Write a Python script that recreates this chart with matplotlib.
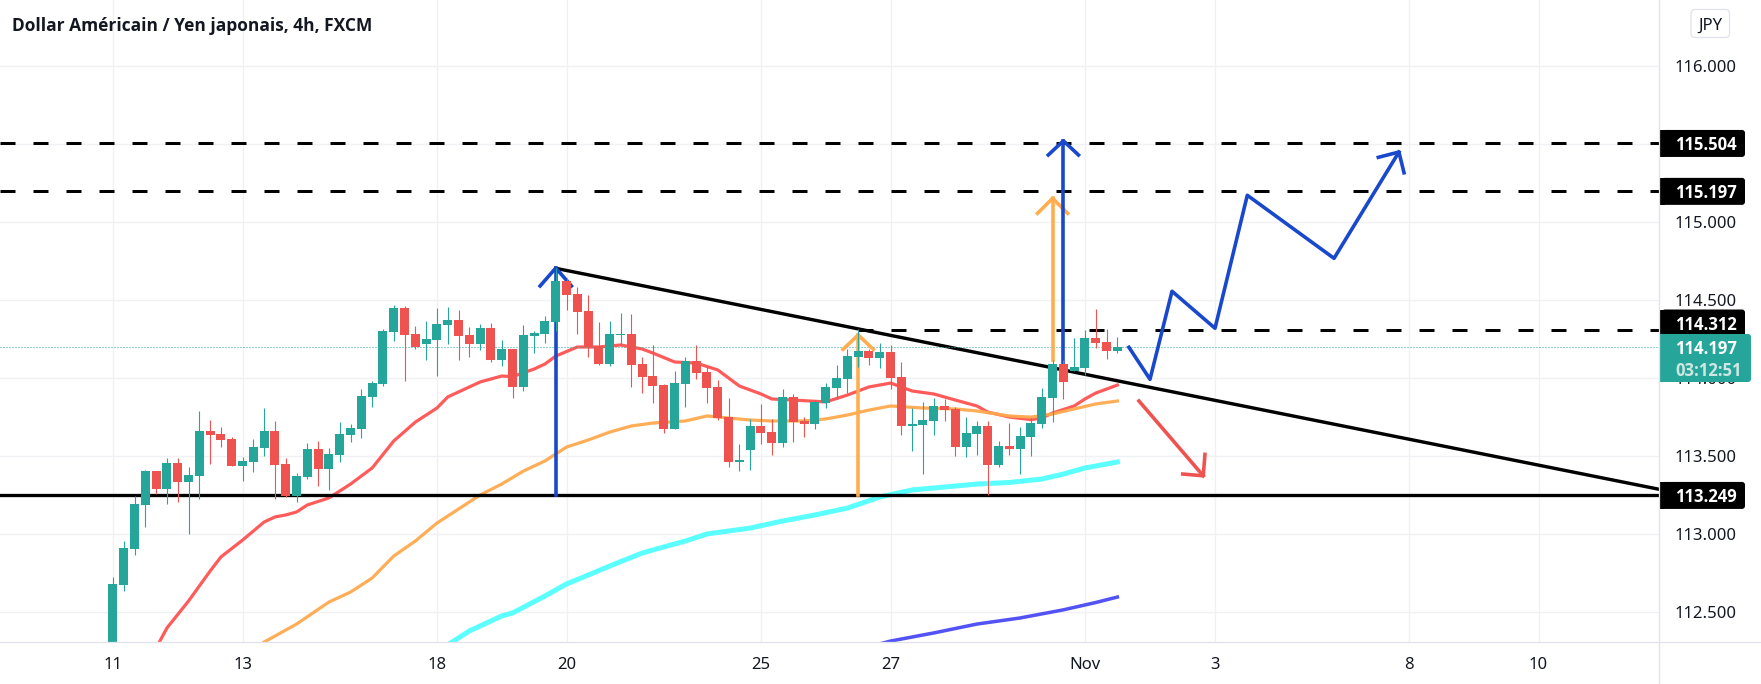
import matplotlib
matplotlib.use("Agg")
import matplotlib.pyplot as plt
from matplotlib.patches import FancyBboxPatch, Rectangle

plt.rcParams["font.family"] = ["Noto Sans", "DejaVu Sans"]
plt.rcParams["lines.scale_dashes"] = False

# 4h bars, x is the bar index
opens = [112.05, 112.675, 112.905, 113.187, 113.405, 113.290, 113.456, 113.335, 113.373, 113.661,
         113.642, 113.610, 113.437, 113.463, 113.552, 113.661, 113.450, 113.245, 113.367, 113.546,
         113.418, 113.508, 113.636, 113.674, 113.879, 113.962, 114.296, 114.449, 114.283, 114.219,
         114.244, 114.340, 114.372, 114.276, 114.219, 114.321, 114.116, 114.187, 113.943, 114.270,
         114.283, 114.360, 114.622, 114.539, 114.430, 114.206, 114.091, 114.276, 114.283, 114.091,
         114.014, 113.956, 113.674, 113.962, 114.110, 114.039, 113.943, 113.752, 113.463, 113.540,
         113.694, 113.656, 113.585, 113.880, 113.726, 113.707, 113.841, 113.938, 113.995, 114.136,
         114.175, 114.130, 114.168, 114.008, 113.694, 113.700, 113.726, 113.822, 113.803, 113.560,
         113.643, 113.694, 113.444, 113.566, 113.546, 113.623, 113.707, 113.873, 114.091, 114.046,
         114.065, 114.257, 114.232, 114.174]
highs = [112.726, 112.957, 113.245, 113.412, 113.405, 113.488, 113.488, 113.431, 113.789, 113.732,
         113.687, 113.623, 113.495, 113.610, 113.809, 113.725, 113.488, 113.392, 113.585, 113.597,
         113.552, 113.719, 113.706, 113.930, 113.982, 114.315, 114.469, 114.462, 114.334, 114.366,
         114.449, 114.456, 114.437, 114.328, 114.347, 114.353, 114.244, 114.187, 114.340, 114.302,
         114.398, 114.706, 114.642, 114.584, 114.533, 114.360, 114.366, 114.417, 114.411, 114.135,
         114.212, 113.962, 114.046, 114.135, 114.212, 114.078, 113.988, 113.873, 113.579, 113.739,
         113.835, 113.739, 113.931, 113.899, 113.752, 113.861, 113.970, 114.085, 114.187, 114.315,
         114.187, 114.226, 114.213, 114.104, 113.809, 113.848, 113.873, 113.867, 113.816, 113.752,
         113.726, 113.726, 113.598, 113.713, 113.687, 113.745, 113.937, 114.117, 114.117, 114.257,
         114.309, 114.443, 114.315, 114.264]
lows = [112.00, 112.636, 112.867, 113.046, 113.258, 113.194, 113.207, 113.002, 113.226, 113.450,
        113.559, 113.437, 113.341, 113.399, 113.501, 113.226, 113.239, 113.207, 113.354, 113.309,
        113.283, 113.463, 113.591, 113.617, 113.815, 113.950, 114.238, 113.982, 114.187, 114.116,
        114.014, 114.219, 114.116, 114.135, 114.180, 114.103, 114.078, 113.873, 113.918, 114.161,
        114.225, 114.302, 114.437, 114.283, 114.135, 114.084, 114.078, 114.212, 113.943, 113.905,
        113.841, 113.649, 113.674, 113.815, 113.995, 113.841, 113.732, 113.431, 113.406, 113.412,
        113.579, 113.508, 113.560, 113.592, 113.624, 113.675, 113.809, 113.867, 113.905, 114.072,
        114.085, 114.066, 113.931, 113.636, 113.534, 113.387, 113.636, 113.726, 113.502, 113.495,
        113.508, 113.252, 113.431, 113.508, 113.386, 113.502, 113.681, 113.719, 113.867, 114.046,
        114.020, 114.193, 114.123, 114.161]
closes = [112.681, 112.912, 113.194, 113.405, 113.290, 113.456, 113.335, 113.380, 113.661, 113.636,
          113.604, 113.437, 113.469, 113.559, 113.661, 113.444, 113.245, 113.373, 113.546, 113.418,
          113.514, 113.642, 113.681, 113.886, 113.969, 114.302, 114.449, 114.276, 114.199, 114.251,
          114.347, 114.372, 114.270, 114.219, 114.321, 114.116, 114.187, 113.943, 114.276, 114.289,
          114.366, 114.622, 114.533, 114.424, 114.199, 114.091, 114.283, 114.283, 114.084, 114.007,
          113.950, 113.674, 113.969, 114.110, 114.033, 113.937, 113.745, 113.463, 113.476, 113.694,
          113.649, 113.585, 113.880, 113.720, 113.707, 113.848, 113.944, 114.002, 114.143, 114.175,
          114.130, 114.168, 114.002, 113.694, 113.707, 113.733, 113.822, 113.797, 113.560, 113.649,
          113.694, 113.444, 113.566, 113.547, 113.630, 113.713, 113.879, 114.091, 113.976, 114.072,
          114.257, 114.225, 114.174, 114.197]

# moving averages
ma_red_x = [4, 5, 7, 9, 10, 12, 14, 15, 16, 17, 18, 20, 22, 24, 26, 28, 30, 31, 34, 36, 37, 39, 40, 41,
            43, 45, 47, 49, 50, 52, 54, 56, 58, 60, 61, 63, 66, 68, 70, 72, 74, 76, 78, 80, 81, 83, 85,
            86, 87, 89, 90, 91, 93]
ma_red = [112.272, 112.400, 112.573, 112.765, 112.855, 112.963, 113.079, 113.111, 113.124, 113.143,
          113.188, 113.233, 113.322, 113.425, 113.598, 113.719, 113.809, 113.880, 113.976, 114.014,
          114.010, 114.059, 114.091, 114.142, 114.200, 114.200, 114.213, 114.187, 114.161, 114.104,
          114.097, 114.053, 113.950, 113.899, 113.867, 113.860, 113.848, 113.892, 113.944, 113.969,
          113.918, 113.899, 113.860, 113.822, 113.783, 113.751, 113.735, 113.745, 113.777, 113.822,
          113.867, 113.905, 113.956]
ma_orange_x = [14, 15, 17, 20, 22, 24, 26, 28, 30, 32, 34, 36, 38, 40, 42, 44, 46, 48, 50, 53, 55, 57,
               59, 61, 64, 66, 68, 70, 72, 75, 78, 80, 83, 85, 87, 89, 91, 93]
ma_orange = [112.310, 112.348, 112.425, 112.566, 112.630, 112.720, 112.861, 112.957, 113.072, 113.162,
             113.252, 113.322, 113.405, 113.470, 113.559, 113.604, 113.655, 113.694, 113.713, 113.726,
             113.758, 113.745, 113.732, 113.726, 113.726, 113.739, 113.764, 113.796, 113.822, 113.809,
             113.803, 113.790, 113.758, 113.751, 113.771, 113.803, 113.835, 113.854]
ma_cyan_x = [31, 33, 36, 37, 40, 42, 44, 46, 49, 51, 53, 55, 57, 59, 62, 65, 68, 71, 74, 77, 80, 83, 86,
             88, 90, 93]
ma_cyan = [112.292, 112.381, 112.477, 112.496, 112.605, 112.682, 112.739, 112.797, 112.880, 112.919,
           112.957, 113.002, 113.021, 113.040, 113.085, 113.124, 113.168, 113.239, 113.284, 113.303,
           113.322, 113.332, 113.354, 113.386, 113.425, 113.463]
ma_blue_x = [71, 72, 76, 80, 84, 88, 91, 93]
ma_blue = [112.298, 112.316, 112.368, 112.425, 112.464, 112.516, 112.563, 112.598]

# drawings on the chart
support = 113.249
dashed_levels = [115.504, 115.197]
resistance = 114.312
resistance_start = 69
trend_x = [41, 146]
trend_y = [114.704, 113.249]
blue_up_x = [41, 41]
blue_up_y = [113.249, 114.706]
blue_up_head_x = [39.55, 41, 42.45]
blue_up_head_y = [114.591, 114.706, 114.591]
orange_up_x = [69, 69]
orange_up_y = [113.249, 114.277]
orange_up_head_x = [67.6, 69, 70.4]
orange_up_head_y = [114.185, 114.277, 114.185]
orange_big_x = [87, 87]
orange_big_y = [114.117, 115.152]
orange_big_head_x = [85.6, 87, 88.4]
orange_big_head_y = [115.056, 115.152, 115.056]
blue_big_x = [88, 88]
blue_big_y = [114.0, 115.521]
blue_big_head_x = [86.6, 88, 89.4]
blue_big_head_y = [115.430, 115.521, 115.430]
zigzag_x = [94.07, 96.02, 98.06, 102.04, 105.03, 113.06, 119.07]
zigzag_y = [114.198, 113.993, 114.557, 114.320, 115.172, 114.768, 115.449]
zigzag_head_x = [117.16, 119.07, 119.54]
zigzag_head_y = [115.415, 115.449, 115.316]
red_down_x = [95.0, 100.95]
red_down_y = [113.854, 113.375]
red_down_head_x = [99.05, 100.95, 101.11]
red_down_head_y = [113.386, 113.375, 113.512]

# axis labels
price_ticks = [112.5, 113.0, 113.5, 114.0, 114.5, 115.0, 115.5, 116.0]
price_labels = ["112.500", "113.000", "113.500", "114.000", "114.500", "115.000", "", "116.000"]
date_ticks = [0, 12, 30, 42, 60, 72, 90, 102, 120, 132]
date_labels = ["11", "13", "18", "20", "25", "27", "Nov", "3", "8", "10"]
last_price = 114.197
countdown = "03:12:51"
title = "Dollar Américain / Yen japonais, 4h, FXCM"

GREEN = "#26a69a"
RED = "#ef5350"
TEXT = "#131722"
GRID = "#f0f1f4"
BORDER = "#e0e3eb"
BLUE = "#1848cc"
ORANGE = "#ffad4f"
px = 0.72  # one pixel in points at dpi 100

fig = plt.figure(figsize=(17.61, 6.84), dpi=100)
ax = fig.add_axes([0, 42 / 684, 1659 / 1761, 642 / 684])
ax.set_xlim(-10.46, 143.15)
ax.set_ylim(112.31, 116.423)

ax.set_axisbelow(True)
ax.grid(True, color=GRID, linewidth=1.3 * px)
for side in ["top", "left", "right", "bottom"]:
    ax.spines[side].set_visible(False)
ax.yaxis.tick_right()
ax.set_yticks(price_ticks)
ax.set_yticklabels(price_labels, fontsize=12, color=TEXT)
ax.set_xticks(date_ticks)
ax.set_xticklabels(date_labels, fontsize=12, color=TEXT)
ax.tick_params(axis="y", length=0, pad=11.5)
ax.tick_params(axis="x", length=0, pad=11)

# indicators
ax.plot(ma_red_x, ma_red, color="#ff5252", lw=3.2 * px, alpha=0.95, zorder=2)
ax.plot(ma_orange_x, ma_orange, color="#ffa94d", lw=3.2 * px, alpha=0.95, zorder=2)
ax.plot(ma_cyan_x, ma_cyan, color="#5cffff", lw=5 * px, zorder=2)
ax.plot(ma_blue_x, ma_blue, color="#5252f5", lw=3.5 * px, zorder=2)

# levels and trend line
dash = (0, (15 * px, 18 * px))
for level in dashed_levels:
    ax.plot([-10.46, 143.15], [level, level], color="black", lw=3 * px, linestyle=dash,
            dash_capstyle="butt", zorder=3)
ax.plot([resistance_start, 143.15], [resistance, resistance], color="black", lw=3 * px,
        linestyle=dash, dash_capstyle="butt", zorder=3)
ax.axhline(support, color="black", lw=3.3 * px, zorder=3)
ax.plot(trend_x, trend_y, color="black", lw=3.4 * px, zorder=3)
ax.axhline(last_price, color=GREEN, lw=1 * px, linestyle=(0, (1 * px, 2 * px)), zorder=3)

# arrows
arrow_lw = 3.6 * px
ax.plot(blue_up_x, blue_up_y, color=BLUE, lw=arrow_lw, zorder=4)
ax.plot(blue_up_head_x, blue_up_head_y, color=BLUE, lw=arrow_lw, zorder=4)
ax.plot(orange_up_x, orange_up_y, color=ORANGE, lw=arrow_lw, zorder=4)
ax.plot(orange_up_head_x, orange_up_head_y, color=ORANGE, lw=arrow_lw, zorder=4)
ax.plot(orange_big_x, orange_big_y, color=ORANGE, lw=arrow_lw, zorder=4)
ax.plot(orange_big_head_x, orange_big_head_y, color=ORANGE, lw=arrow_lw, zorder=4)
ax.plot(blue_big_x, blue_big_y, color=BLUE, lw=arrow_lw, zorder=4)
ax.plot(blue_big_head_x, blue_big_head_y, color=BLUE, lw=arrow_lw, zorder=4)
ax.plot(zigzag_x, zigzag_y, color=BLUE, lw=arrow_lw, zorder=4)
ax.plot(zigzag_head_x, zigzag_head_y, color=BLUE, lw=arrow_lw, zorder=4)
ax.plot(red_down_x, red_down_y, color=RED, lw=arrow_lw, zorder=4)
ax.plot(red_down_head_x, red_down_head_y, color=RED, lw=arrow_lw, zorder=4)

# candles go on top of everything
xs = list(range(len(opens)))
colors = [GREEN if c >= o else RED for o, c in zip(opens, closes)]
ax.vlines(xs, lows, highs, colors=colors, linewidth=1.1 * px, zorder=5)
ax.bar(xs, [c - o for o, c in zip(opens, closes)], bottom=opens, width=0.83, color=colors,
       linewidth=0, zorder=6)

# price scale furniture is placed in pixels
over = fig.add_axes([0, 0, 1, 1], facecolor="none")
over.set_xlim(0, 1761)
over.set_ylim(684, 0)
over.axis("off")


def price_y(price):
    return ax.transData.transform((0, price))[1] * -1 + 684


over.plot([1659, 1659], [0, 684], color=BORDER, lw=1.3 * px)
over.plot([0, 1761], [642, 642], color=BORDER, lw=1.3 * px)


def price_tag(price, y, color, height=27, right=1748):
    box = FancyBboxPatch((1662, y - height / 2), right - 1665, height,
                         boxstyle="round,pad=0,rounding_size=3", facecolor=color, edgecolor="none")
    over.add_patch(box)
    over.add_patch(Rectangle((1659, y - height / 2), 6, height, facecolor=color, edgecolor="none"))
    if price is not None:
        over.text(1675.5, y, f"{price:.3f}", color="white", fontsize=12, fontweight="bold",
                  family="Open Sans", ha="left", va="center_baseline")


for level in dashed_levels:
    price_tag(level, price_y(level), "black")
price_tag(support, price_y(support), "black")
price_tag(resistance, price_y(resistance) - 6.5, "black")
price_tag(None, 358, GREEN, height=48, right=1754)
over.text(1675.5, price_y(last_price), f"{last_price:.3f}", color="white", fontsize=12,
          fontweight="bold", family="Open Sans", ha="left", va="center_baseline")
over.text(1675, 369, countdown, color="#cfe6e3", fontsize=12, fontweight="bold",
          family="Open Sans", ha="left", va="center_baseline")

# currency button
over.add_patch(FancyBboxPatch((1691, 9.5), 38.5, 28, boxstyle="round,pad=0,rounding_size=4",
                              facecolor="white", edgecolor=BORDER, lw=1.3 * px))
over.text(1710, 23.5, "JPY", color=TEXT, fontsize=12, ha="center", va="center_baseline")

over.text(12, 24, title, color=TEXT, fontsize=12.5, fontweight="bold", family="Open Sans",
          ha="left", va="center_baseline")

fig.savefig("out.png", dpi=100, facecolor="white")
